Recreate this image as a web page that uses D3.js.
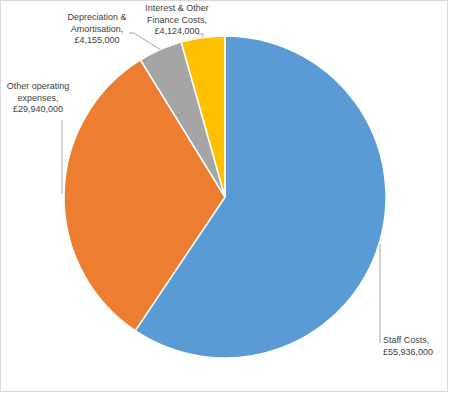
<!DOCTYPE html>
<html>
<head>
<meta charset="utf-8">
<script src="https://cdn.jsdelivr.net/npm/d3@7"></script>
<style>
  body { margin: 0; background: #fff; }
  svg { display: block; font-family: "Liberation Sans", Arial, sans-serif; }
</style>
</head>
<body>
<svg id="chart"></svg>
<script>
  const categories = ['Staff Costs', 'Other operating expenses', 'Depreciation & Amortisation', 'Interest & Other Finance Costs'];
  const values = [55936000, 29940000, 4155000, 4124000];
  const valueLabels = ['£55,936,000', '£29,940,000', '£4,155,000', '£4,124,000'];
  const labelLines = [
    ['Staff Costs,', '£55,936,000'],
    ['Other operating', 'expenses,', '£29,940,000'],
    ['Depreciation &', 'Amortisation,', '£4,155,000'],
    ['Interest & Other', 'Finance Costs,', '£4,124,000']
  ];
  const colors = ['#5b9bd5', '#ed7d31', '#a5a5a5', '#ffc000'];

  const width = 450, height = 394;
  const cx = 225, cy = 197, r = 161;

  const svg = d3.select('#chart').attr('width', width).attr('height', height);

  svg.append('rect')
    .attr('x', 0.5).attr('y', 0.5)
    .attr('width', width - 3).attr('height', height - 3)
    .attr('fill', '#fff').attr('stroke', '#d9d9d9');

  const pie = d3.pie().sort(null).value(d => d);
  const arcs = pie(values);
  const arc = d3.arc().innerRadius(0).outerRadius(r);

  const g = svg.append('g').attr('transform', `translate(${cx},${cy})`);
  g.selectAll('path').data(arcs)
    .enter().append('path')
      .attr('d', arc)
      .attr('fill', (d, i) => colors[i])
      .attr('stroke', '#fff')
      .attr('stroke-width', 1.5);

  // label placement (anchor, text centre, leader routing)
  const labelPos = [
    { x: 383, y: 340, anchor: 'start', lead: (p) => [[p[0] + 1, p[1]], [p[0] + 1, 343]] },
    { x: 38, y: 86, anchor: 'middle', lead: (p) => [[p[0] - 2, p[1]], [p[0] - 2, 120]] },
    { x: 97, y: 17, anchor: 'middle', lead: (p) => [p, [134, 33], [129, 33]] },
    { x: 177, y: 8, anchor: 'middle', lead: (p) => [p, [p[0], 34], [197, 34]] }
  ];

  const edge = d => {
    const a = (d.startAngle + d.endAngle) / 2;
    return [cx + r * Math.sin(a), cy - r * Math.cos(a)];
  };

  const line = d3.line();
  svg.selectAll('path.leader').data(arcs)
    .enter().append('path')
      .attr('class', 'leader')
      .attr('d', (d, i) => line(labelPos[i].lead(edge(d))))
      .attr('fill', 'none')
      .attr('stroke', '#a6a6a6')
      .attr('stroke-width', 1);

  const labels = svg.selectAll('text.lbl').data(arcs)
    .enter().append('text')
      .attr('class', 'lbl')
      .attr('x', (d, i) => labelPos[i].x)
      .attr('y', (d, i) => labelPos[i].y)
      .attr('text-anchor', (d, i) => labelPos[i].anchor)
      .attr('fill', '#404040')
      .attr('font-size', '9px');

  labels.each(function (d, i) {
    d3.select(this).selectAll('tspan').data(labelLines[i])
      .enter().append('tspan')
        .attr('x', labelPos[i].x)
        .attr('y', (t, j) => labelPos[i].y + j * 11.5)
        .attr('dy', '0.35em')
        .text(t => t);
  });
</script>
</body>
</html>
